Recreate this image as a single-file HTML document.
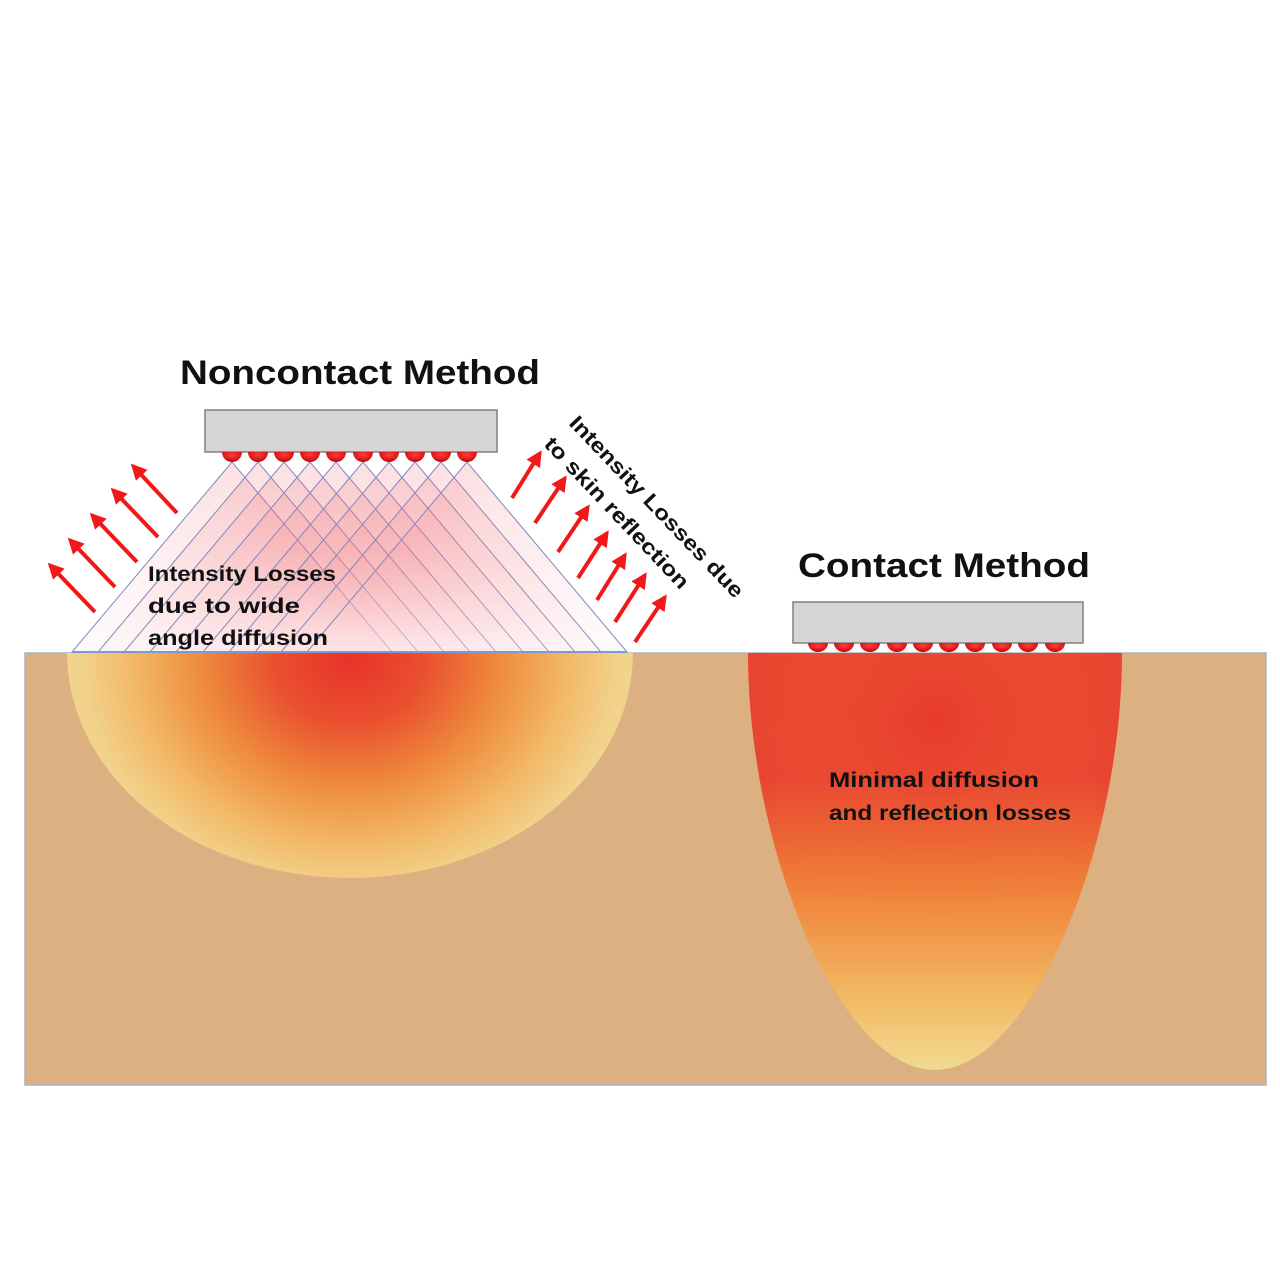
<!DOCTYPE html>
<html><head><meta charset="utf-8"><style>html,body{margin:0;padding:0;background:#fff}svg{display:block}</style></head>
<body>
<svg width="1280" height="1280" viewBox="0 0 1280 1280" xmlns="http://www.w3.org/2000/svg">
<defs>
<radialGradient id="hemi" cx="350" cy="660" r="300" gradientUnits="userSpaceOnUse" gradientTransform="translate(350 660) scale(1 0.85) translate(-350 -660)">
<stop offset="0" stop-color="#e8332a"/>
<stop offset="0.25" stop-color="#e9502f"/>
<stop offset="0.5" stop-color="#ee8c3c"/>
<stop offset="0.72" stop-color="#f2b866"/>
<stop offset="0.9" stop-color="#f1d38c"/>
<stop offset="1" stop-color="#f1d38c"/>
</radialGradient>
<linearGradient id="para" x1="0" y1="653" x2="0" y2="1070" gradientUnits="userSpaceOnUse">
<stop offset="0" stop-color="#e8432f"/>
<stop offset="0.3" stop-color="#e84230"/>
<stop offset="0.55" stop-color="#ef7d38"/>
<stop offset="0.8" stop-color="#f2b45e"/>
<stop offset="1" stop-color="#f1da92"/>
</linearGradient>
<radialGradient id="paraH" cx="935" cy="720" r="200" gradientUnits="userSpaceOnUse">
<stop offset="0" stop-color="#e8332a" stop-opacity="0.5"/>
<stop offset="1" stop-color="#f08a3e" stop-opacity="0"/>
</radialGradient>
<linearGradient id="cone" x1="0" y1="462" x2="0" y2="652" gradientUnits="userSpaceOnUse">
<stop offset="0" stop-color="#f0606a" stop-opacity="0.2"/>
<stop offset="0.5" stop-color="#f07a80" stop-opacity="0.12"/>
<stop offset="1" stop-color="#fbd8dc" stop-opacity="0.1"/>
</linearGradient>
<radialGradient id="led" cx="0.5" cy="0.3" r="0.7">
<stop offset="0" stop-color="#ff4040"/>
<stop offset="1" stop-color="#c80000"/>
</radialGradient>
<marker id="ah" viewBox="0 0 10 10" refX="8" refY="5" markerWidth="4" markerHeight="4" orient="auto">
<path d="M0,0 L10,5 L0,10 Z" fill="#f01818"/>
</marker>
</defs>

<rect x="25" y="653" width="1241" height="432" fill="#dcb080" stroke="#a9b4c8" stroke-width="1.5"/>

<path d="M67,653 A283,225 0 0 0 633,653 Z" fill="url(#hemi)"/>

<path d="M748,653 L1122,653 C1122,850 1030,1070 935,1070 C840,1070 748,850 748,653 Z" fill="url(#para)"/>
<path d="M748,653 L1122,653 C1122,850 1030,1070 935,1070 C840,1070 748,850 748,653 Z" fill="url(#paraH)"/>

<g stroke="#8088c0" stroke-width="1" fill="url(#cone)">
<polygon points="232,462 72,652 392,652"/>
<polygon points="258,462 98,652 418,652"/>
<polygon points="284,462 124,652 444,652"/>
<polygon points="310,462 150,652 470,652"/>
<polygon points="336,462 176,652 496,652"/>
<polygon points="363,462 203,652 523,652"/>
<polygon points="389,462 229,652 549,652"/>
<polygon points="415,462 255,652 575,652"/>
<polygon points="441,462 281,652 601,652"/>
<polygon points="467,462 307,652 627,652"/>
</g>
<line x1="72" y1="652" x2="627" y2="652" stroke="#8098d0" stroke-width="2"/>

<rect x="205" y="410" width="292" height="42" fill="#d5d5d5" stroke="#808080" stroke-width="1.5"/>
<g fill="url(#led)">
<path d="M222,452 a10,10 0 0 0 20,0 Z"/><path d="M248,452 a10,10 0 0 0 20,0 Z"/>
<path d="M274,452 a10,10 0 0 0 20,0 Z"/><path d="M300,452 a10,10 0 0 0 20,0 Z"/>
<path d="M326,452 a10,10 0 0 0 20,0 Z"/><path d="M353,452 a10,10 0 0 0 20,0 Z"/>
<path d="M379,452 a10,10 0 0 0 20,0 Z"/><path d="M405,452 a10,10 0 0 0 20,0 Z"/>
<path d="M431,452 a10,10 0 0 0 20,0 Z"/><path d="M457,452 a10,10 0 0 0 20,0 Z"/>
</g>

<rect x="793" y="602" width="290" height="41" fill="#d5d5d5" stroke="#808080" stroke-width="1.5"/>
<g fill="url(#led)">
<path d="M808,643 a10,9 0 0 0 20,0 Z"/><path d="M834,643 a10,9 0 0 0 20,0 Z"/>
<path d="M860,643 a10,9 0 0 0 20,0 Z"/><path d="M887,643 a10,9 0 0 0 20,0 Z"/>
<path d="M913,643 a10,9 0 0 0 20,0 Z"/><path d="M939,643 a10,9 0 0 0 20,0 Z"/>
<path d="M965,643 a10,9 0 0 0 20,0 Z"/><path d="M992,643 a10,9 0 0 0 20,0 Z"/>
<path d="M1018,643 a10,9 0 0 0 20,0 Z"/><path d="M1045,643 a10,9 0 0 0 20,0 Z"/>
</g>

<g stroke="#f01818" stroke-width="4" marker-end="url(#ah)">
<line x1="95" y1="612" x2="50" y2="565"/>
<line x1="115" y1="587" x2="70" y2="540"/>
<line x1="137" y1="562" x2="92" y2="515"/>
<line x1="158" y1="537" x2="113" y2="490"/>
<line x1="177" y1="513" x2="133" y2="466"/>
</g>
<g stroke="#f01818" stroke-width="4" marker-end="url(#ah)">
<line x1="512" y1="498" x2="540" y2="453"/>
<line x1="535" y1="523" x2="565" y2="478"/>
<line x1="558" y1="552" x2="588" y2="507"/>
<line x1="578" y1="578" x2="607" y2="533"/>
<line x1="597" y1="600" x2="625" y2="555"/>
<line x1="615" y1="622" x2="645" y2="575"/>
<line x1="635" y1="642" x2="665" y2="597"/>
</g>

<g font-family="Liberation Sans, sans-serif" font-weight="bold" fill="#111">
<text x="180" y="384" font-size="34" textLength="360" lengthAdjust="spacingAndGlyphs">Noncontact Method</text>
<text x="798" y="577" font-size="34" textLength="292" lengthAdjust="spacingAndGlyphs">Contact Method</text>
<text x="148" y="581" font-size="21" textLength="188" lengthAdjust="spacingAndGlyphs">Intensity Losses</text>
<text x="148" y="613" font-size="21" textLength="152" lengthAdjust="spacingAndGlyphs">due to  wide</text>
<text x="148" y="645" font-size="21" textLength="180" lengthAdjust="spacingAndGlyphs">angle diffusion</text>
<text x="829" y="787" font-size="21" textLength="210" lengthAdjust="spacingAndGlyphs">Minimal diffusion</text>
<text x="829" y="820" font-size="21" textLength="242" lengthAdjust="spacingAndGlyphs">and reflection losses</text>
<text transform="translate(568,424) rotate(46.4)" font-size="21" textLength="242" lengthAdjust="spacingAndGlyphs">Intensity Losses due</text>
<text transform="translate(543,445) rotate(46.6)" font-size="21" textLength="200" lengthAdjust="spacingAndGlyphs">to skin reflection</text>
</g>
</svg>
</body></html>
